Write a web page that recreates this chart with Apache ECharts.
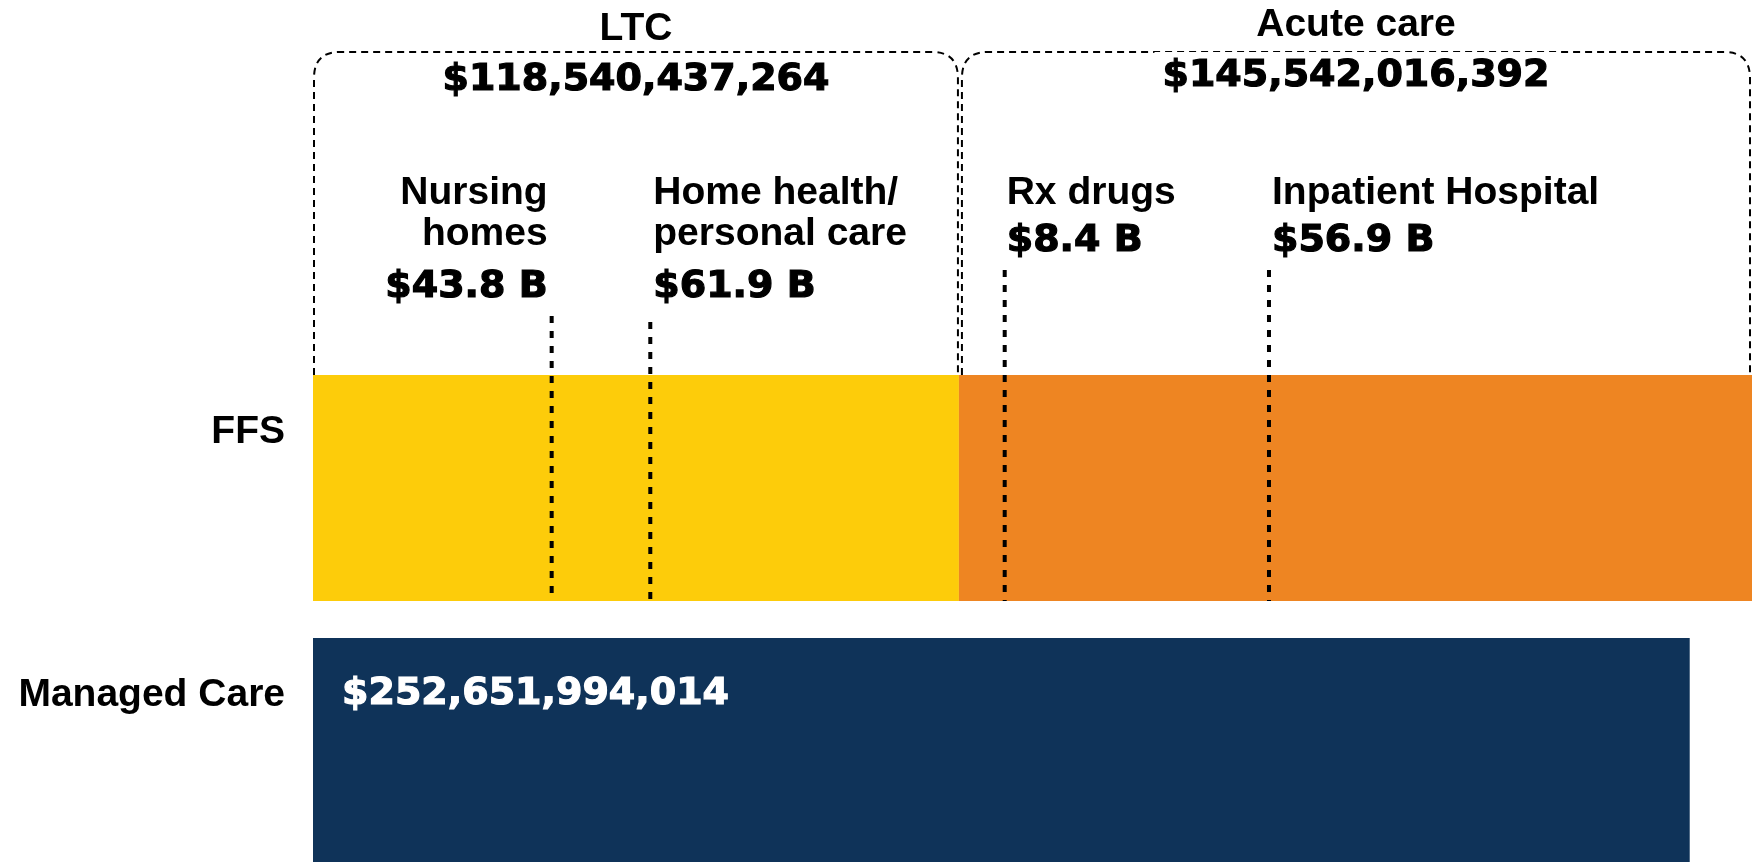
<!DOCTYPE html>
<html><head><meta charset="utf-8">
<script src="https://cdn.jsdelivr.net/npm/echarts@6/dist/echarts.min.js"></script>
<style>html,body{margin:0;padding:0;background:#fff}#c{width:1753px;height:862px}</style>
</head><body><div id="c"></div>
<script>
// ---- data ----
const categories = ['FFS', 'Managed Care'];
const ffsGroupNames = ['LTC', 'Acute care'];
const ffsGroupTotals = [118540437264, 145542016392];
const managedCareTotal = 252651994014;
const subNames = ['Nursing\nhomes', 'Home health/\npersonal care', 'Rx drugs', 'Inpatient Hospital'];
const subValuesB = [43.8, 61.9, 8.4, 56.9];
const subGroups = [0, 0, 1, 1];

// ---- helpers ----
const fmt = v => '$' + String(Math.round(v)).replace(/\B(?=(\d{3})+(?!\d))/g, ',');
const groupStarts = ffsGroupTotals.map((_, i) => ffsGroupTotals.slice(0, i).reduce((a, b) => a + b, 0));
const ffsTotal = ffsGroupTotals.reduce((a, b) => a + b, 0);

const LABEL_FONT = 'bold 39px "Liberation Sans", Arial, sans-serif';
const NUM_FONT = 'bold 38px "DejaVu Sans", sans-serif';
const BAR_RATIO = 0.86;

function barEdges(api) {
  const c = api.coord([0, 0]);
  const h = api.size([0, 1])[1];
  return { top: c[1] - h * BAR_RATIO / 2, bottom: c[1] + h * BAR_RATIO / 2 };
}

// layout constants for annotations
const headY = [29, 25];
const insetL = [1, 3];
const insetR = [1, 2];
const subLineTop = [316, 322, 270, 270];
const subAlign = ['right', 'left', 'left', 'left'];
const subDx = [-4, 3, 2, 3];

const chart = echarts.init(document.getElementById('c'), null, { renderer: 'canvas' });

chart.setOption({
  animation: false,
  backgroundColor: '#fff',
  grid: { left: 313, right: 1, top: 356.5, height: 526, containLabel: false, outerBoundsMode: 'none' },
  xAxis: {
    type: 'value', min: 0, max: ffsTotal,
    show: false
  },
  yAxis: {
    type: 'category', inverse: true, data: categories,
    axisLine: { show: false }, axisTick: { show: false }, splitLine: { show: false },
    axisLabel: {
      margin: 28,
      formatter: v => '{a|' + v + '}\n{b| }',
      rich: {
        a: { color: '#000', fontFamily: '"Liberation Sans", Arial, sans-serif', fontWeight: 'bold', fontSize: 39, lineHeight: 44, align: 'right' },
        b: { fontSize: 10, lineHeight: 112, align: 'right' }
      }
    }
  },
  series: [
    {
      type: 'bar', name: ffsGroupNames[0], stack: 'total', barWidth: (BAR_RATIO * 100) + '%',
      data: [ffsGroupTotals[0], '-'], itemStyle: { color: '#FDCC0A' }
    },
    {
      type: 'bar', name: ffsGroupNames[1], stack: 'total', barWidth: (BAR_RATIO * 100) + '%',
      data: [ffsGroupTotals[1], '-'], itemStyle: { color: '#EE8522' }
    },
    {
      type: 'bar', name: 'Managed Care', stack: 'total', barWidth: (BAR_RATIO * 100) + '%',
      data: ['-', managedCareTotal], itemStyle: { color: '#0F3359' },
      label: {
        show: true, position: [29, 56], align: 'left', verticalAlign: 'middle',
        color: '#fff', fontFamily: '"DejaVu Sans", sans-serif', fontWeight: 'bold', fontSize: 38,
        textBorderColor: '#fff', textBorderWidth: 1.2,
        formatter: p => fmt(p.value)
      }
    },
    {
      type: 'custom', clip: false, z: 5,
      encode: { x: [0, 1], y: 2 },
      data: ffsGroupTotals.map((t, i) => [groupStarts[i], groupStarts[i] + t, 0]),
      renderItem(params, api) {
        const i = params.dataIndex;
        const x0 = api.coord([api.value(0), 0])[0] + insetL[i];
        const x1 = api.coord([api.value(1), 0])[0] - insetR[i];
        const top = barEdges(api).top;
        const yT = 52, r = 26;
        const pathData = `M${x0},${top} L${x0},${yT + r} Q${x0},${yT} ${x0 + r},${yT} L${x1 - r},${yT} Q${x1},${yT} ${x1},${yT + r} L${x1},${top}`;
        const cx = (x0 + x1) / 2;
        return {
          type: 'group', children: [
            { type: 'path', shape: { pathData }, style: { fill: null, stroke: '#000', lineWidth: 2, lineDash: [7, 5] } },
            { type: 'text', z2: 10, style: { text: ffsGroupNames[i], x: cx, y: headY[i], align: 'center', verticalAlign: 'middle', font: LABEL_FONT, fill: '#000' } },
            { type: 'text', z2: 10, style: { text: fmt(ffsGroupTotals[i]), x: cx, y: headY[i] + 51, align: 'center', verticalAlign: 'middle', font: NUM_FONT, fill: '#000', stroke: '#000', lineWidth: 1.2, backgroundColor: '#fff', padding: [8, 8, 2, 8] } }
          ]
        };
      }
    },
    {
      type: 'custom', clip: false, z: 6,
      encode: { x: 0, y: 1 },
      data: subValuesB.map((v, i) => [groupStarts[subGroups[i]] + v * 1e9, 0]),
      renderItem(params, api) {
        const i = params.dataIndex;
        const x = api.coord([api.value(0), 0])[0];
        const bottom = barEdges(api).bottom;
        const lines = subNames[i].split('\n');
        const tx = x + subDx[i];
        const children = [
          { type: 'line', shape: { x1: x, y1: subLineTop[i], x2: x, y2: bottom }, style: { stroke: '#000', lineWidth: 4, lineDash: [7, 8] } }
        ];
        let y = 193;
        lines.forEach((ln, k) => {
          y = 193 + k * 41;
          children.push({ type: 'text', style: { text: ln, x: tx, y: y, align: subAlign[i], verticalAlign: 'middle', font: LABEL_FONT, fill: '#000' } });
        });
        children.push({ type: 'text', style: { text: '$' + subValuesB[i].toFixed(1) + ' B', x: tx, y: y + (lines.length > 1 ? 53 : 48), align: subAlign[i], verticalAlign: 'middle', font: NUM_FONT, fill: '#000', stroke: '#000', lineWidth: 1.2 } });
        return { type: 'group', children };
      }
    }
  ]
});
</script>
</body></html>
